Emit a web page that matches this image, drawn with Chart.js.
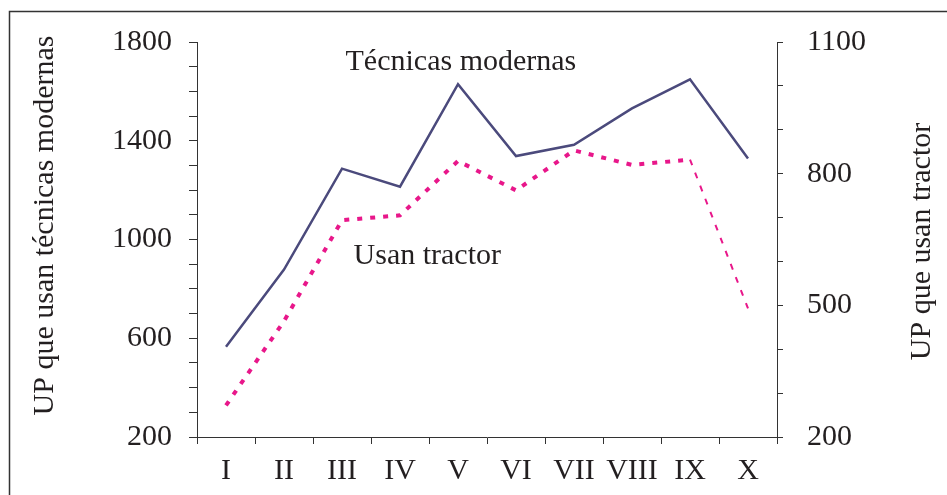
<!DOCTYPE html>
<html>
<head>
<meta charset="utf-8">
<script src="https://cdn.jsdelivr.net/npm/chart.js@4/dist/chart.umd.min.js"></script>
<style>
  body { margin: 0; background: #fff; }
  canvas { display: block; }
</style>
</head>
<body>
<canvas id="myChart" width="947" height="495"></canvas>
<script>
// DATA
const regions = ["I", "II", "III", "IV", "V", "VI", "VII", "VIII", "IX", "X"];
const tecnicasModernas = [566, 878, 1287, 1214, 1629, 1338, 1384, 1531, 1649, 1328];
const usanTractor = [272, 464, 694, 705, 829, 762, 853, 820, 832, 493];
const leftTickLabels = [200, 600, 1000, 1400, 1800];
const rightTickLabels = [200, 500, 800, 1100];
const leftTitle = "UP que usan técnicas modernas";
const rightTitle = "UP que usan tractor";
const seriesNames = ["Técnicas modernas", "Usan tractor"];

const serif = "'Liberation Serif', 'Times New Roman', serif";
const ink = "#231f20";

// text labels inside the plot, anchored on the left scale
const inlineLabels = [
  { text: seriesNames[0], at: 4.05, value: 1720 },
  { text: seriesNames[1], at: 3.47, value: 934 },
];

function drawVertical(ctx, text, x, y) {
  ctx.save();
  ctx.translate(x, y);
  ctx.rotate(-Math.PI / 2);
  ctx.fillText(text, 0, 0);
  ctx.restore();
}

// frame, inline labels and both axis titles (both read bottom to top)
const extras = {
  id: "extras",
  beforeDraw(chart) {
    const ctx = chart.ctx;
    ctx.save();
    ctx.fillStyle = "#fff";
    ctx.fillRect(0, 0, chart.width, chart.height);
    ctx.strokeStyle = "#333";
    ctx.lineWidth = 1.5;
    ctx.strokeRect(9.5, 11.5, chart.width + 10, chart.height + 10);
    ctx.restore();
  },
  afterDraw(chart) {
    const ctx = chart.ctx;
    const x = chart.scales.x;
    const y = chart.scales.y;
    const y1 = chart.scales.y1;
    ctx.save();
    ctx.font = "30px " + serif;
    ctx.fillStyle = ink;
    ctx.textAlign = "center";
    ctx.textBaseline = "middle";
    inlineLabels.forEach((l) => {
      ctx.fillText(l.text, x.getPixelForValue(l.at), y.getPixelForValue(l.value));
    });
    const mid = (y.top + y.bottom) / 2;
    drawVertical(ctx, leftTitle, y.left + 45, mid - 14);
    drawVertical(ctx, rightTitle, y1.right - 25, mid + 2);
    ctx.restore();
  },
};

const ctx = document.getElementById("myChart").getContext("2d");
const chart = new Chart(ctx, {
  type: "line",
  data: {
    labels: regions,
    datasets: [
      {
        label: seriesNames[0],
        data: tecnicasModernas,
        yAxisID: "y",
        borderColor: "#4b4a7c",
        borderWidth: 2.5,
        pointRadius: 0,
        tension: 0,
      },
      {
        label: seriesNames[1],
        data: usanTractor,
        yAxisID: "y1",
        borderColor: "#e8178a",
        borderWidth: 4,
        borderDash: [5, 8],
        pointRadius: 0,
        tension: 0,
        segment: {
          // the last stretch is drawn thinner in the original
          borderWidth: (c) => (c.p1DataIndex === regions.length - 1 ? 2 : undefined),
          borderDash: (c) => (c.p1DataIndex === regions.length - 1 ? [6, 8] : undefined),
        },
      },
    ],
  },
  options: {
    responsive: false,
    animation: false,
    layout: { padding: { top: 38, left: 0, right: 0, bottom: 0 } },
    plugins: { legend: { display: false }, tooltip: { enabled: false } },
    scales: {
      x: {
        offset: true,
        grid: { offset: true, drawOnChartArea: false, tickLength: 7, color: "#333" },
        border: { color: "#333", width: 1 },
        ticks: { font: { family: serif, size: 30 }, color: ink, padding: 9, autoSkip: false, maxRotation: 0 },
        afterFit: (s) => { s.height = 58; },
      },
      y: {
        position: "left",
        min: 200,
        max: 1800,
        grid: { drawOnChartArea: false, tickLength: 8, color: "#333" },
        border: { color: "#333", width: 1 },
        ticks: {
          stepSize: 100,
          autoSkip: false,
          padding: 17,
          color: ink,
          font: { family: serif, size: 30 },
          callback: (v) => (leftTickLabels.includes(v) ? v : ""),
        },
        afterFit: (s) => { s.width = 197; },
      },
      y1: {
        position: "right",
        min: 200,
        max: 1100,
        grid: { drawOnChartArea: false, tickLength: 6, color: "#333" },
        border: { color: "#333", width: 1 },
        ticks: {
          stepSize: 100,
          autoSkip: false,
          padding: 24,
          color: ink,
          font: { family: serif, size: 30 },
          callback: (v) => (rightTickLabels.includes(v) ? v : ""),
        },
        afterFit: (s) => { s.width = 170; },
      },
    },
  },
  plugins: [extras],
});
</script>
</body>
</html>
